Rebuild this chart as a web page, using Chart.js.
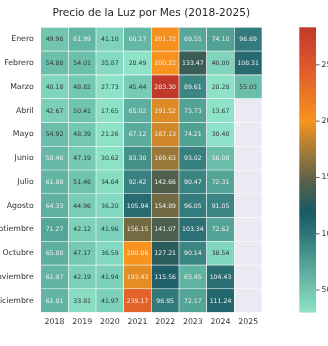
<!DOCTYPE html>
<html>
<head>
<meta charset="utf-8">
<script src="https://cdn.jsdelivr.net/npm/chart.js@4"></script>
<style>
  html, body { margin: 0; padding: 0; background: #fff; overflow: hidden; }
  #wrap { width: 328px; height: 346px; }
</style>
</head>
<body>
<div id="wrap"><canvas id="chart" width="328" height="346"></canvas></div>
<script>
const years = ["2018", "2019", "2020", "2021", "2022", "2023", "2024", "2025"];
const months = ["Enero", "Febrero", "Marzo", "Abril", "Mayo", "Junio", "Julio",
  "Agosto", "Septiembre", "Octubre", "Noviembre", "Diciembre"];

// price per month (€/MWh), one list per year
const p2018 = [49.98, 54.88, 40.18, 42.67, 54.92, 58.46, 61.88, 64.33, 71.27, 65.08, 61.97, 61.81];
const p2019 = [61.99, 54.01, 48.82, 50.41, 48.39, 47.19, 51.46, 44.96, 42.12, 47.17, 42.19, 33.81];
const p2020 = [41.10, 35.87, 27.73, 17.65, 21.26, 30.62, 34.64, 36.20, 41.96, 36.59, 41.94, 41.97];
const p2021 = [60.17, 28.49, 45.44, 65.02, 67.12, 83.30, 92.42, 105.94, 156.15, 200.06, 193.43, 239.17];
const p2022 = [201.72, 200.22, 283.30, 191.52, 187.13, 169.63, 142.66, 154.89, 141.07, 127.21, 115.56, 96.95];
const p2023 = [69.55, 133.47, 89.61, 73.73, 74.21, 93.02, 90.47, 96.05, 103.34, 90.14, 63.45, 72.17];
const p2024 = [74.10, 40.00, 20.28, 13.67, 30.40, 56.08, 72.31, 91.05, 72.62, 38.54, 104.43, 111.24];
const p2025 = [96.69, 108.31, 55.03, null, null, null, null, null, null, null, null, null];

const colorbarTicks = [50, 100, 150, 200, 250];
const vmin = 30;
const vmax = 283.3;

const byYear = [p2018, p2019, p2020, p2021, p2022, p2023, p2024, p2025];
const FONT = "DejaVu Sans";

// colormap stops: mint -> teal -> olive -> orange -> red
const cmap = [
  [30, [141, 226, 200]],
  [50, [114, 198, 176]],
  [75, [80, 160, 148]],
  [100, [45, 116, 119]],
  [120, [27, 90, 100]],
  [145, [84, 96, 74]],
  [170, [155, 120, 57]],
  [200, [247, 147, 30]],
  [240, [226, 98, 42]],
  [283.3, [192, 57, 43]]
];

function colorFor(v) {
  if (v == null) return "#eaeaf2";
  if (v <= cmap[0][0]) return rgb(cmap[0][1]);
  for (let k = 1; k < cmap.length; k++) {
    if (v <= cmap[k][0]) {
      const [v0, c0] = cmap[k - 1];
      const [v1, c1] = cmap[k];
      const t = (v - v0) / (v1 - v0);
      return rgb(c0.map((c, n) => c + (c1[n] - c) * t));
    }
  }
  return rgb(cmap[cmap.length - 1][1]);
}

function rgb(c) {
  return `rgb(${c.map(Math.round).join(",")})`;
}

const datasets = months.map((m, i) => {
  const values = byYear.map(list => list[i]);
  return {
    label: m,
    values: values,
    data: years.map(() => [i, i + 1]),
    backgroundColor: values.map(colorFor),
    borderColor: "rgba(255,255,255,0.85)",
    borderWidth: 0.6,
    borderSkipped: false,
    barPercentage: 1,
    categoryPercentage: 1,
    grouped: false
  };
});

const cellText = {
  id: "cellText",
  afterDatasetsDraw(chart) {
    const ctx = chart.ctx;
    ctx.save();
    ctx.font = `6.2px "${FONT}"`;
    ctx.textAlign = "center";
    ctx.textBaseline = "middle";
    chart.data.datasets.forEach((ds, i) => {
      chart.getDatasetMeta(i).data.forEach((bar, j) => {
        const v = ds.values[j];
        if (v == null) return;
        ctx.fillStyle = v > 55.5 ? "#f0f0f0" : "#2c3633";
        ctx.fillText(v.toFixed(2), bar.x, (bar.y + bar.base) / 2 + 0.5);
      });
    });
    ctx.restore();
  }
};

const colorbar = {
  id: "colorbar",
  afterDraw(chart) {
    const ctx = chart.ctx;
    const s = chart.scales.cb;
    const top = s.getPixelForValue(vmax);
    const bottom = s.getPixelForValue(vmin);
    const x0 = 299.3, x1 = 316;
    const grad = ctx.createLinearGradient(0, bottom, 0, top);
    cmap.forEach(([v, c]) => grad.addColorStop((v - vmin) / (vmax - vmin), rgb(c)));
    ctx.save();
    ctx.fillStyle = grad;
    ctx.fillRect(x0, top, x1 - x0, bottom - top);
    ctx.strokeStyle = "#333";
    ctx.lineWidth = 0.8;
    ctx.fillStyle = "#333";
    ctx.font = `7.8px "${FONT}"`;
    ctx.textAlign = "left";
    ctx.textBaseline = "middle";
    colorbarTicks.forEach(t => {
      const y = s.getPixelForValue(t);
      ctx.beginPath();
      ctx.moveTo(x1, y);
      ctx.lineTo(x1 + 3.5, y);
      ctx.stroke();
      ctx.fillText(String(t), x1 + 5.5, y);
    });
    ctx.restore();
  }
};

new Chart(document.getElementById("chart"), {
  type: "bar",
  data: { labels: years, datasets: datasets },
  options: {
    responsive: false,
    animation: false,
    layout: { padding: { left: 0, right: 66, top: 0, bottom: 0 } },
    plugins: {
      legend: { display: false },
      tooltip: { enabled: false },
      title: {
        display: true,
        text: "Precio de la Luz por Mes (2018-2025)",
        color: "#262626",
        fullSize: false,
        font: { family: FONT, size: 10.6, weight: "normal" },
        padding: { top: 7, bottom: 7.6 }
      }
    },
    scales: {
      x: {
        type: "category",
        offset: true,
        grid: { display: false, drawTicks: false },
        border: { display: false },
        ticks: { color: "#333", font: { family: FONT, size: 7.8 }, padding: 5 },
        afterFit(scale) { scale.height = 33.4; }
      },
      y: {
        type: "linear",
        min: 0,
        max: 12,
        reverse: true,
        grid: { display: false, drawTicks: false },
        border: { display: false },
        afterBuildTicks(scale) {
          scale.ticks = months.map((m, i) => ({ value: i + 0.5 }));
        },
        ticks: {
          color: "#333",
          font: { family: FONT, size: 7.8 },
          padding: 7,
          callback: (v, idx) => months[idx]
        },
        afterFit(scale) { scale.width = 40.7; }
      },
      cb: {
        type: "linear",
        axis: "y",
        position: "right",
        display: false,
        min: vmin,
        max: vmax
      }
    }
  },
  plugins: [cellText, colorbar]
});
</script>
</body>
</html>
